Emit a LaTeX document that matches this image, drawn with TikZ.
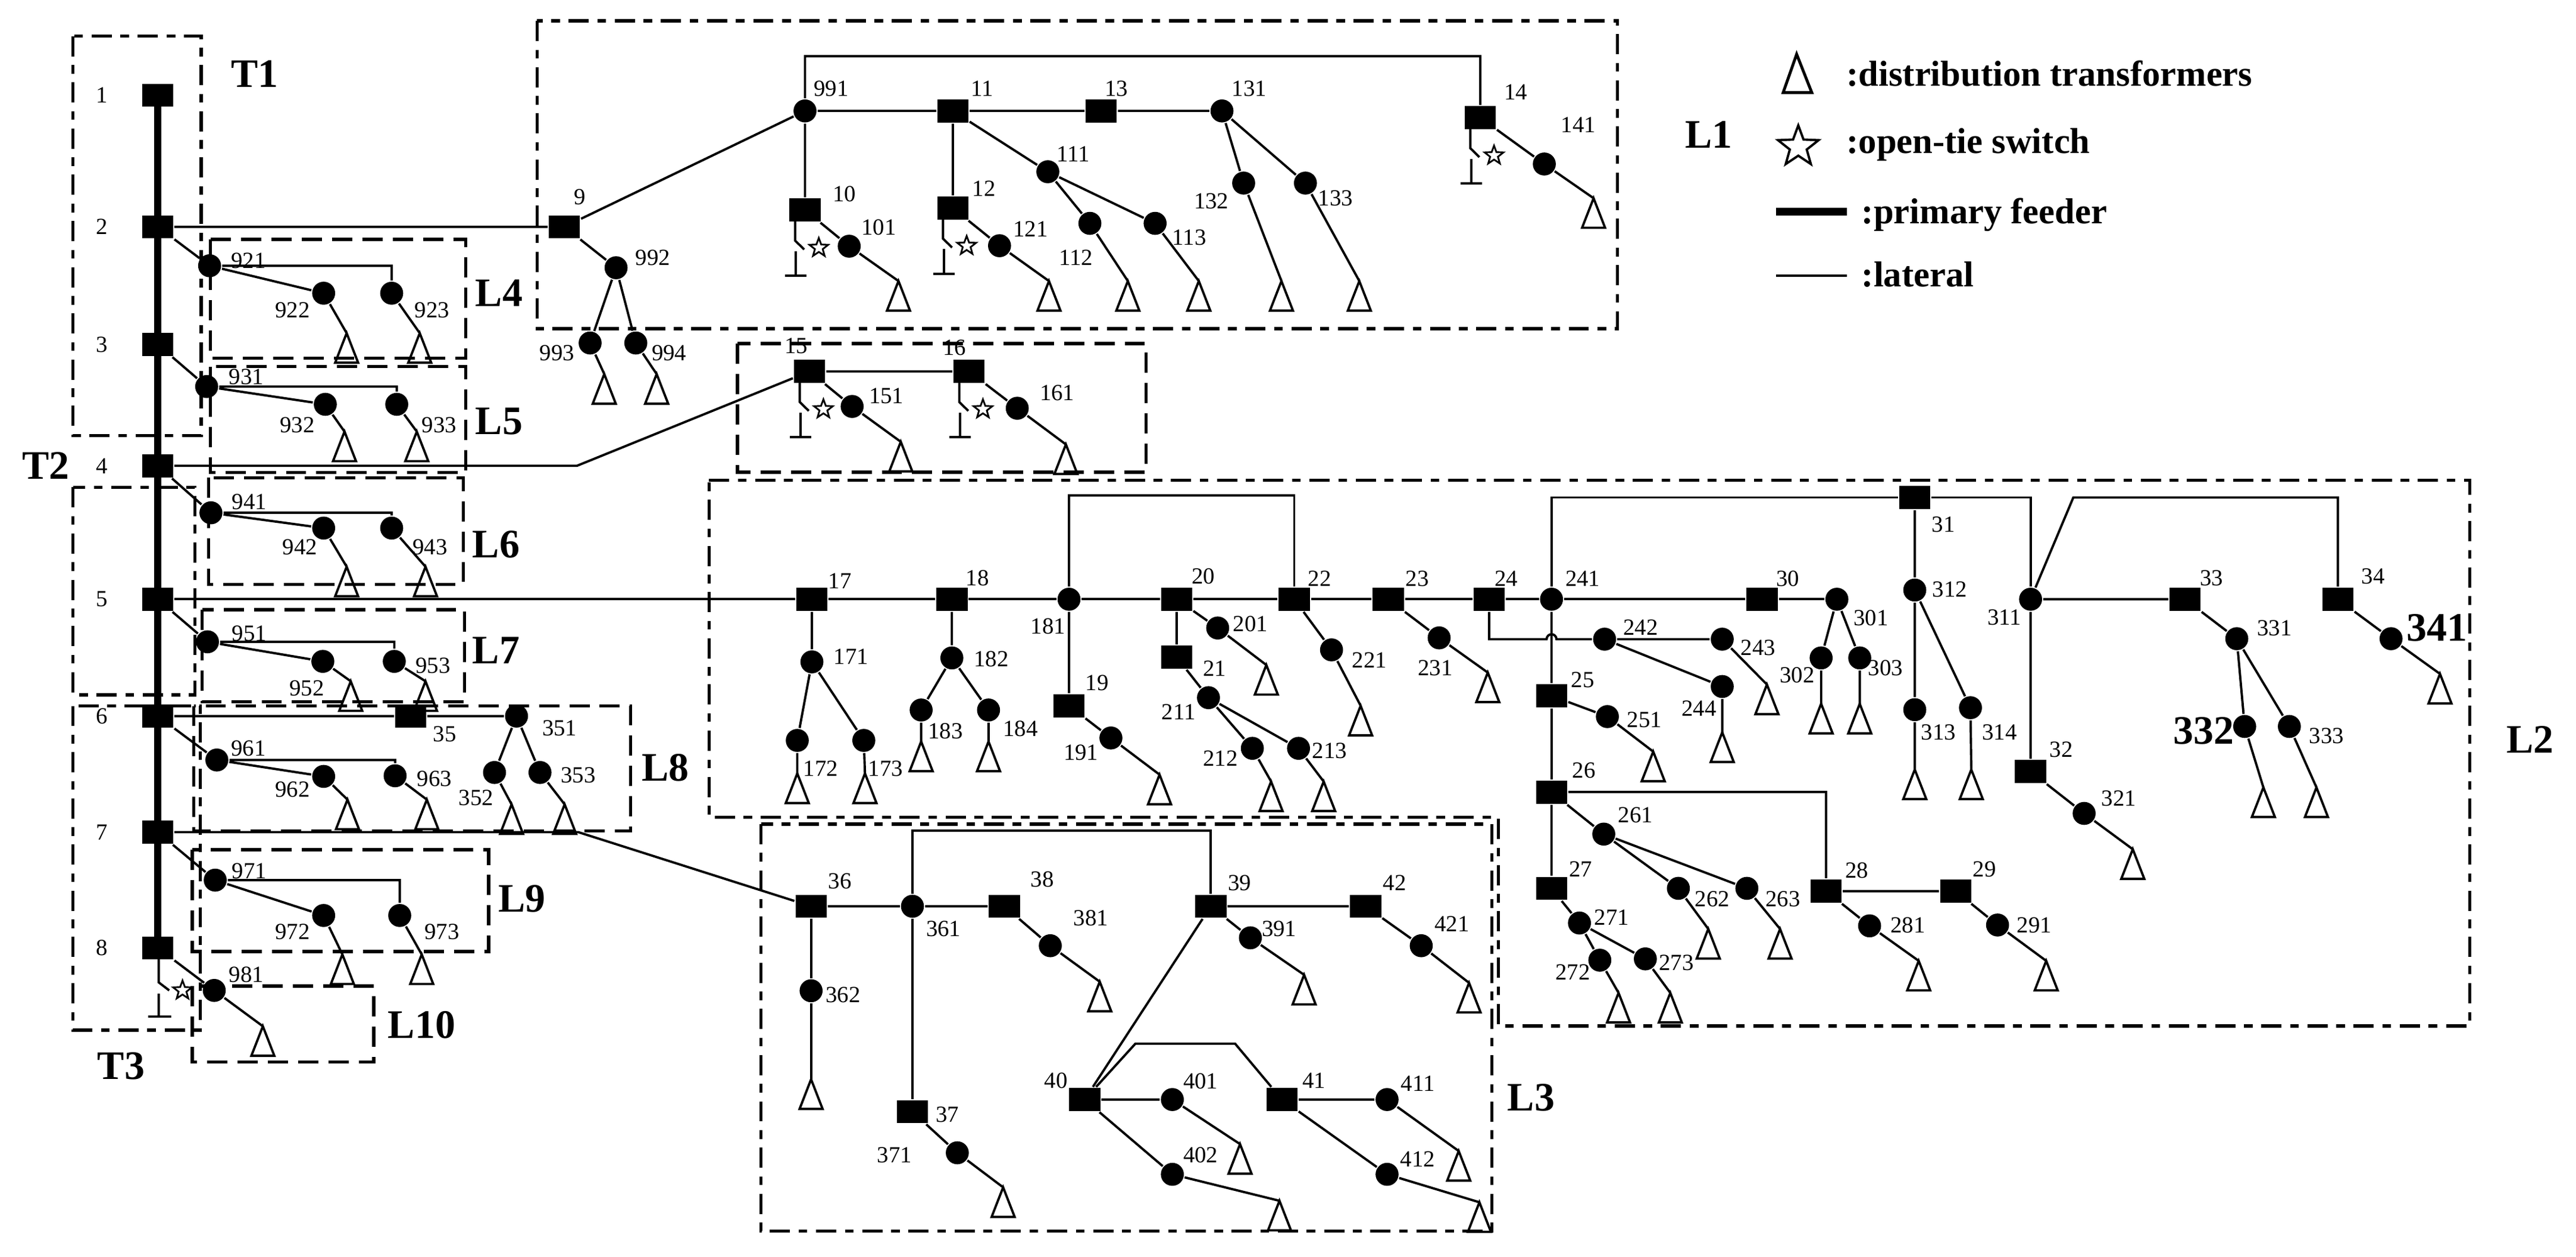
\documentclass[tikz,border=0pt]{standalone}
\usepackage{fontspec}
\setmainfont{Liberation Serif}
\usetikzlibrary{shapes.geometric}
\newcommand\mySq[5]{\node[sq] (#1) at (#2,#3) {}; \node[lab] (#1l) at (#4,#5) {#1};}
\newcommand\myCi[5]{\node[ci] (#1) at (#2,#3) {}; \node[lab] (#1l) at (#4,#5) {#1};}
\newcommand\myTr[3]{\coordinate (t#1) at (#2,#3); \pic at (t#1) {tr};}
\tikzset{
  sq/.style={fill=black,minimum width=0.38cm,minimum height=0.28cm,inner sep=0pt},
  ci/.style={circle,fill=black,minimum size=0.28cm,inner sep=0pt},
  lab/.style={font=\fontsize{8}{9}\selectfont,inner sep=0pt},
  big/.style={font=\fontsize{14}{16}\selectfont\bfseries,inner sep=0pt},
  leg/.style={font=\fontsize{12.5}{14}\selectfont\bfseries,inner sep=0pt,anchor=west},
  swstar/.style={star,star points=5,star point ratio=2.4,draw,line width=0.6pt,fill=white,minimum size=0.24cm,inner sep=0pt},
  tr/.pic={\draw[line width=0.8pt] (0,0)--(-7,18)--(7,18)--cycle;},
  sw/.pic={\draw[line width=0.8pt] (-6,7)--(-6,18.6)--(-0.5,24); \node[swstar] (st) at (8.4,23){}; \draw[line width=0.8pt] (-5.5,25)--(-5.5,40) (-12,40)--(1,40);},
  box/.style={line width=1.1pt,dash pattern=on 7pt off 3.5pt},
  boxd/.style={line width=1.1pt,dash pattern=on 7pt off 3pt on 3pt off 3pt},
}
\begin{document}
\begin{tikzpicture}[x=0.02cm,y=-0.02cm,line width=0.8pt]
\useasboundingbox (0,0) rectangle (1568,764.8);
% boxes
\draw[boxd] (44.5,22) rectangle (122.5,265);
\draw[boxd] (44.5,296.5) rectangle (118.7,422.8);
\draw[boxd] (44.5,429.5) rectangle (122,626.8);
\draw[box] (128,145.7) rectangle (283.4,218);
\draw[box] (128,223) rectangle (283.4,287.6);
\draw[box] (127,290.7) rectangle (282,355.6);
\draw[box] (123,371) rectangle (282.7,427);
\draw[box] (118,429.5) rectangle (383.8,505.5);
\draw[box] (117,517) rectangle (297.4,579);
\draw[box] (117,600) rectangle (227.5,646.2);
\draw[boxd] (326.9,12.7) rectangle (984.6,200);
\draw[box] (448.9,209.1) rectangle (697.6,287.3);
\draw[boxd] (431.6,292.3)--(1503.2,292.3)--(1503.2,624.2)--(912,624.2)--(912,497.3)--(431.6,497.3)--cycle;
\draw[boxd] (463.2,501.4) rectangle (908,749);
% big labels
\node[big] (T1) at (155,45) {T1};
\node[big] (T2) at (28,283.4) {T2};
\node[big] (T3) at (73.7,648.6) {T3};
\node[big] (L1) at (1040,82) {L1};
\node[big] (L2) at (1540,450) {L2};
\node[big] (L3) at (932,668) {L3};
\node[big] (L4) at (303.8,178.4) {L4};
\node[big] (L5) at (303.8,256.4) {L5};
\node[big] (L6) at (302,331.3) {L6};
\node[big] (L7) at (302,395.7) {L7};
\node[big] (L8) at (405,467) {L8};
\node[big] (L9) at (317.8,546.8) {L9};
\node[big] (L10) at (256.7,623.6) {L10};
% feeder
\mySq{1}{96}{58}{62}{58}
\mySq{2}{96}{138}{62}{138}
\mySq{3}{96}{209.6}{62}{209.6}
\mySq{4}{96}{283.4}{62}{283.4}
\mySq{5}{96}{364.6}{62}{364.6}
\mySq{6}{96}{435.7}{62}{435.7}
\mySq{7}{96}{506.3}{62}{506.3}
\mySq{8}{96}{576.7}{62}{576.7}
\draw[line width=2.3pt] (1.center)--(8.center);
\foreach \n in {1,...,8}{\node[sq] at (\n) {};}
% L4
\myCi{921}{127.6}{161.7}{151.2}{158.6}
\myCi{922}{197}{178.4}{178}{188.8}
\myCi{923}{238.4}{178.4}{263}{188.8}
\myTr{922}{211}{202.7}\myTr{923}{255.5}{202.7}
\draw (2)--(921) (921)--(922)--(t922) (921)--(921-|923)--(923)--(t923);
% L5
\myCi{931}{125.8}{235.2}{150}{229.3}
\myCi{932}{198}{246}{181}{258.5}
\myCi{933}{241.5}{246}{267.4}{258.5}
\myTr{932}{209.7}{262.6}\myTr{933}{253.7}{262.6}
\draw (3)--(931) (931)--(932)--(t932) (931)--(931-|933)--(933)--(t933);
% L6
\myCi{941}{128.4}{312}{151.8}{305.3}
\myCi{942}{197}{321.3}{182.5}{333}
\myCi{943}{238.4}{321.3}{261.8}{333}
\myTr{942}{211}{344.8}\myTr{943}{259}{344.8}
\draw (4)--(941) (941)--(942)--(t942) (941)--(941-|943)--(943)--(t943);
% L7
\myCi{951}{126.3}{390.5}{151.8}{385.3}
\myCi{952}{196.5}{402.4}{186.8}{418.6}
\myCi{953}{240}{402.4}{263.6}{405}
\myTr{952}{213.5}{414.5}\myTr{953}{259}{414.5}
\draw (5)--(951) (951)--(952)--(t952) (951)--(951-|953)--(953)--(t953);
% L8
\myCi{961}{132}{462.4}{151.2}{455.4}
\myCi{962}{197}{472.4}{178}{480.5}
\myCi{963}{240.5}{472}{264.4}{474}
\myTr{962}{211.5}{486.5}\myTr{963}{259.8}{486.5}
\draw (6)--(961) (961)--(962)--(t962) (961)--(961-|963)--(963)--(t963);
\mySq{35}{250}{435.7}{270.7}{446.5}
\myCi{351}{314.4}{435.7}{340.6}{443}
\myCi{352}{301}{470}{289.8}{485.3}
\myCi{353}{328.7}{470}{352}{471.6}
\myTr{352}{311.4}{489.4}\myTr{353}{343.7}{489.4}
\draw (6)--(35)--(351) (351)--(352)--(t352) (351)--(353)--(t353);
% L9
\myCi{971}{131}{535.5}{151.8}{529.8}
\myCi{972}{197}{557}{178}{567}
\myCi{973}{243.3}{557}{269}{567}
\myTr{972}{208.4}{580.7}\myTr{973}{256.7}{580.7}
\draw (7)--(971) (971)--(972)--(t972) (971)--(971-|973)--(973)--(t973);
% L10
\myCi{981}{130.4}{602.6}{150}{592.9}
\myTr{981}{160}{624.4}
\draw (8)--(981)--(t981);
\draw (96.6,583.7)--(96.6,597.7)--(103,602.6) (96.6,604.5)--(96.6,618.5) (90.2,618.5)--(104.2,618.5);
\node[swstar] (s8) at (111.1,602.6) {};
% L1
\mySq{9}{343.5}{138}{352.8}{119.7}
\draw (2)--(9);
\myCi{991}{490}{67.5}{506}{53.8}
\myCi{992}{375}{162.9}{397.4}{156.7}
\myCi{993}{359.2}{208.7}{339.1}{214.9}
\myCi{994}{387}{208.7}{407.3}{214.9}
\myTr{993}{367.8}{227.6}\myTr{994}{399.7}{227.6}
\draw (9)--(991) (9)--(992) (992)--(993)--(t993) (992)--(994)--(t994);
\mySq{10}{490}{127.8}{514}{117.9}
\myCi{101}{516.9}{149.8}{534.9}{138.2}
\myTr{101}{546.9}{171}
\draw (991)--(10)--(101)--(t101);
\pic (s10) at (10) {sw};
\mySq{11}{580}{67.5}{597.7}{53.8}
\mySq{12}{580}{126.6}{598.9}{114.9}
\myCi{121}{608.4}{149.5}{627.3}{139.4}
\myTr{121}{638.5}{171}
\draw (991)--(11) (11)--(12)--(121)--(t121);
\pic (s12) at (12) {sw};
\myCi{111}{637.8}{104.5}{653.4}{93.6}
\myCi{112}{663.4}{135.9}{655}{156.7}
\myCi{113}{703.1}{135.9}{723.9}{144.4}
\myTr{112}{686.5}{171}\myTr{113}{729.7}{171}
\draw (11)--(111) (111)--(112)--(t112) (111)--(113)--(t113);
\mySq{13}{670.3}{67.5}{679.5}{53.8}
\myCi{131}{743.8}{67.5}{760.4}{53.8}
\myCi{132}{757}{111.4}{737.3}{122.5}
\myCi{133}{794.6}{111.4}{812.9}{120.6}
\myTr{132}{780}{171}\myTr{133}{827.4}{171}
\draw (11)--(13)--(131) (131)--(132)--(t132) (131)--(133)--(t133);
\mySq{14}{901}{71.6}{922.7}{56.2}
\myCi{141}{940}{99.8}{960.8}{75.8}
\myTr{141}{970}{120.6}
\draw (991)--(490,34.2)-|(14) (14)--(141)--(t141);
\pic (s14) at (14) {sw};
% 15/16
\mySq{15}{492.8}{226}{484.7}{210.3}
\mySq{16}{589.9}{226}{581.1}{211.5}
\myCi{151}{518.7}{247.3}{539.5}{241}
\myCi{161}{619.2}{248.4}{643.5}{239.2}
\myTr{151}{548.3}{268.8}\myTr{161}{648.8}{270.4}
\draw (4)--(351.2,283.4)--(15) (15)--(16) (15)--(151)--(t151) (16)--(161)--(t161);
\pic (s15) at (15) {sw};
\pic (s16) at (16) {sw};
% L2
\mySq{17}{494.2}{364.6}{511.2}{353.4}
\mySq{18}{579.4}{364.6}{594.9}{351.7}
\myCi{181}{650.7}{364.6}{637.9}{380.9}
\mySq{20}{716.2}{364.6}{732.5}{350.5}
\mySq{22}{787.8}{364.6}{803.3}{352.2}
\mySq{23}{845}{364.6}{862.7}{352.2}
\mySq{24}{906.4}{364.6}{916.8}{352.2}
\myCi{241}{944.4}{364.6}{963.4}{352.2}
\mySq{30}{1072.5}{364.6}{1088.3}{352.2}
\myCi{301}{1118.1}{364.6}{1138.8}{376}
\draw (5)--(17)--(18)--(181)--(20)--(22)--(23)--(24)--(241)--(30)--(301);
\draw (181)--(650.7,301.5)-|(22);
\myCi{171}{494.2}{402.7}{518}{399.5}
\myCi{172}{485.3}{450.5}{499.6}{467.5}
\myCi{173}{525.8}{450.5}{539.1}{467.5}
\myTr{172}{485.3}{470.6}\myTr{173}{526.5}{470.6}
\draw (17)--(171) (171)--(172)--(t172) (171)--(173)--(t173);
\myCi{182}{579.4}{400.3}{603.4}{401}
\myCi{183}{560.7}{432}{575.5}{444.7}
\myCi{184}{601.7}{432}{621.1}{443.4}
\myTr{183}{560.7}{451.2}\myTr{184}{601.7}{451.2}
\draw (18)--(182) (182)--(183)--(t183) (182)--(184)--(t184);
\mySq{19}{650.7}{429.4}{667.7}{415.6}
\myCi{191}{676.2}{449}{658}{458}
\myTr{191}{705.8}{471.3}
\draw (181)--(19)--(191)--(t191);
\myCi{201}{741.2}{382.1}{761.1}{379.6}
\myTr{201}{770.8}{404.6}
\draw (20)--(201)--(t201);
\mySq{21}{716.2}{399.8}{739.3}{406.8}
\myCi{211}{735.6}{424.5}{717.4}{433}
\myCi{212}{762.3}{455.3}{742.9}{461.6}
\myCi{213}{790.4}{455.3}{809.3}{456.8}
\myTr{212}{773.7}{475.5}\myTr{213}{805.7}{475.5}
\draw (20)--(21)--(211) (211)--(212)--(t212) (211)--(213)--(t213);
\myCi{221}{810.5}{395.4}{833.6}{401.5}
\myTr{221}{828.2}{429.4}
\draw (22)--(221)--(t221);
\myCi{231}{876}{388.1}{873.6}{406.3}
\myTr{231}{905.6}{409.2}
\draw (23)--(231)--(t231);
\myCi{242}{976.7}{388.9}{998.6}{381.6}
\myCi{243}{1048.3}{388.9}{1070.1}{394.2}
\myCi{244}{1048.3}{417.7}{1034.2}{431}
\myTr{243}{1075.5}{416.5}\myTr{244}{1048.3}{445.6}
\draw (24)--(906.4,388.9)--(941.4,388.9) arc[start angle=180,end angle=360,radius=3]--(242);
\draw (242)--(243)--(t243) (242)--(244)--(t244);
\mySq{25}{944.4}{423.3}{963.4}{413.6}
\myCi{251}{978.4}{436}{1001}{437.9}
\myTr{251}{1006.3}{457.3}
\draw (241)--(25)--(251)--(t251);
\mySq{26}{944.4}{482}{964.1}{468.9}
\mySq{28}{1111.5}{542.2}{1130.3}{529.6}
\draw (25)--(26) (26)-|(28);
\myCi{261}{976.2}{507.5}{995.6}{496.1}
\myCi{262}{1021.6}{540.5}{1042.2}{547}
\myCi{263}{1063.3}{540.5}{1085.2}{547}
\myTr{262}{1039.8}{565.2}\myTr{263}{1083.5}{565.2}
\draw (26)--(261) (261)--(262)--(t262) (261)--(263)--(t263);
\mySq{27}{944.4}{540.5}{962.2}{528.8}
\myCi{271}{961.4}{561.6}{981.1}{558}
\myCi{272}{973.8}{584.2}{957.3}{591.4}
\myCi{273}{1001.5}{583.4}{1020.4}{585.9}
\myTr{272}{985.2}{604.1}\myTr{273}{1016.7}{604.1}
\draw (26)--(27)--(271) (271)--(272)--(t272) (271)--(273)--(t273);
\myCi{281}{1138}{563.3}{1161.3}{562.8}
\myTr{281}{1167.9}{584.6}
\mySq{29}{1190.4}{542.2}{1207.9}{528.8}
\myCi{291}{1215.9}{562.8}{1238.2}{562.8}
\myTr{291}{1245.5}{584.6}
\draw (28)--(281)--(t281) (28)--(29)--(291)--(t291);
\myCi{302}{1108.5}{400.3}{1093.9}{410.7}
\myCi{303}{1132}{400.3}{1147.7}{406.3}
\myTr{302}{1108.5}{428.2}\myTr{303}{1132}{428.2}
\draw (301)--(302)--(t302) (301)--(303)--(t303);
\mySq{31}{1165.5}{302.7}{1182.9}{319}
\myCi{311}{1236}{364.6}{1220}{375.5}
\draw (241)|-(31) (31)-|(311);
\myCi{312}{1165.5}{359}{1186.8}{358.5}
\myCi{313}{1165.5}{431.8}{1180}{445.6}
\myCi{314}{1199.4}{430.6}{1217.1}{445.6}
\myTr{313}{1165.5}{468.2}\myTr{314}{1199.9}{468.2}
\draw (31)--(312)--(313)--(t313) (312)--(314)--(t314);
\mySq{34}{1423}{364.6}{1444.5}{350.5}
\mySq{33}{1330}{364.6}{1346.2}{351.7}
\mySq{32}{1236}{469.4}{1254.7}{456.1}
\draw (311)--(1262,302.7)-|(34) (311)--(33) (311)--(32);
\myCi{321}{1268.6}{494.9}{1289.7}{485.9}
\myTr{321}{1298.2}{516.7}
\draw (32)--(321)--(t321);
\myCi{331}{1361.5}{388.6}{1384.5}{382.1}
\node[ci] (332) at (1366.3,442) {};
\node[big] (332l) at (1341.3,444.7) {332};
\myCi{333}{1393.5}{442}{1416.1}{447.6}
\myTr{332}{1377.7}{479.1}\myTr{333}{1410}{479.1}
\draw (33)--(331) (331)--(332)--(t332) (331)--(333)--(t333);
\node[ci] (341) at (1455.4,388.6) {};
\node[big] (341l) at (1483.3,382.1) {341};
\myTr{341}{1485.2}{410}
\draw (34)--(341)--(t341);
% L3
\mySq{36}{493.7}{551.4}{511.2}{536.1}
\draw (7)--(352,506.3)--(36);
\myCi{361}{555.4}{551.4}{574.3}{565.2}
\mySq{38}{611.4}{551.4}{634.5}{534.9}
\myCi{381}{639.3}{575.4}{664}{558.7}
\myTr{381}{669.4}{597.3}
\mySq{39}{737}{551.4}{754.5}{537.3}
\mySq{42}{831.2}{551.4}{848.9}{537.3}
\myCi{421}{865.1}{575.4}{883.8}{562.3}
\myTr{421}{894.2}{598}
\myCi{391}{761.1}{570.6}{778.6}{565.2}
\myTr{391}{793.8}{593.1}
\draw (36)--(361)--(38)--(381)--(t381) (39)--(42)--(421)--(t421) (39)--(391)--(t391);
\draw (361)--(555.4,505.3)-|(39);
\myCi{362}{493.7}{602.8}{513.2}{605.3}
\myTr{362}{493.7}{656.7}
\draw (36)--(362)--(t362);
\mySq{37}{555.4}{676.4}{576.7}{678}
\myCi{371}{582.7}{701.4}{544.5}{702.7}
\myTr{371}{610.6}{722.4}
\draw (361)--(37)--(371)--(t371);
\mySq{40}{660.2}{669}{642.8}{657.5}
\myCi{401}{713.6}{669}{730.8}{658}
\myCi{402}{713.6}{714.5}{730.8}{702.7}
\myTr{401}{754.8}{696.1}\myTr{402}{778.8}{730.6}
\draw (39)--(40) (40)--(401)--(t401) (40)--(402)--(t402);
\mySq{41}{780.3}{669}{799.9}{657.5}
\myCi{411}{844.3}{669}{863}{659.2}
\myCi{412}{844.3}{714.5}{863}{705.2}
\myTr{411}{887.9}{700.3}\myTr{412}{900.5}{731.5}
\draw (40)--(691.1,635)--(751.8,635)--(41) (41)--(411)--(t411) (41)--(412)--(t412);
% legend
\coordinate (lgt) at (1093.6,33);
\draw[line width=1pt] (lgt)--(1085.4,56.3)--(1102.8,56.3)--cycle;
\node[leg] (lg1) at (1123.3,44.6) {:distribution transformers};
\node[star,star points=5,star point ratio=2.4,draw,line width=0.8pt,minimum size=0.52cm,inner sep=0pt] (lgs) at (1094.6,89.3) {};
\node[leg] (lg2) at (1123.3,88) {:open-tie switch};
\coordinate (lgf1) at (1081,128.8); \coordinate (lgf2) at (1124,128.8);
\draw[line width=2.6pt] (lgf1)--(lgf2);
\node[leg] (lg3) at (1132.5,130.7) {:primary feeder};
\coordinate (lgl1) at (1081,167.6); \coordinate (lgl2) at (1124,167.6);
\draw (lgl1)--(lgl2);
\node[leg] (lg4) at (1132.5,167) {:lateral};
\end{tikzpicture}
\end{document}
